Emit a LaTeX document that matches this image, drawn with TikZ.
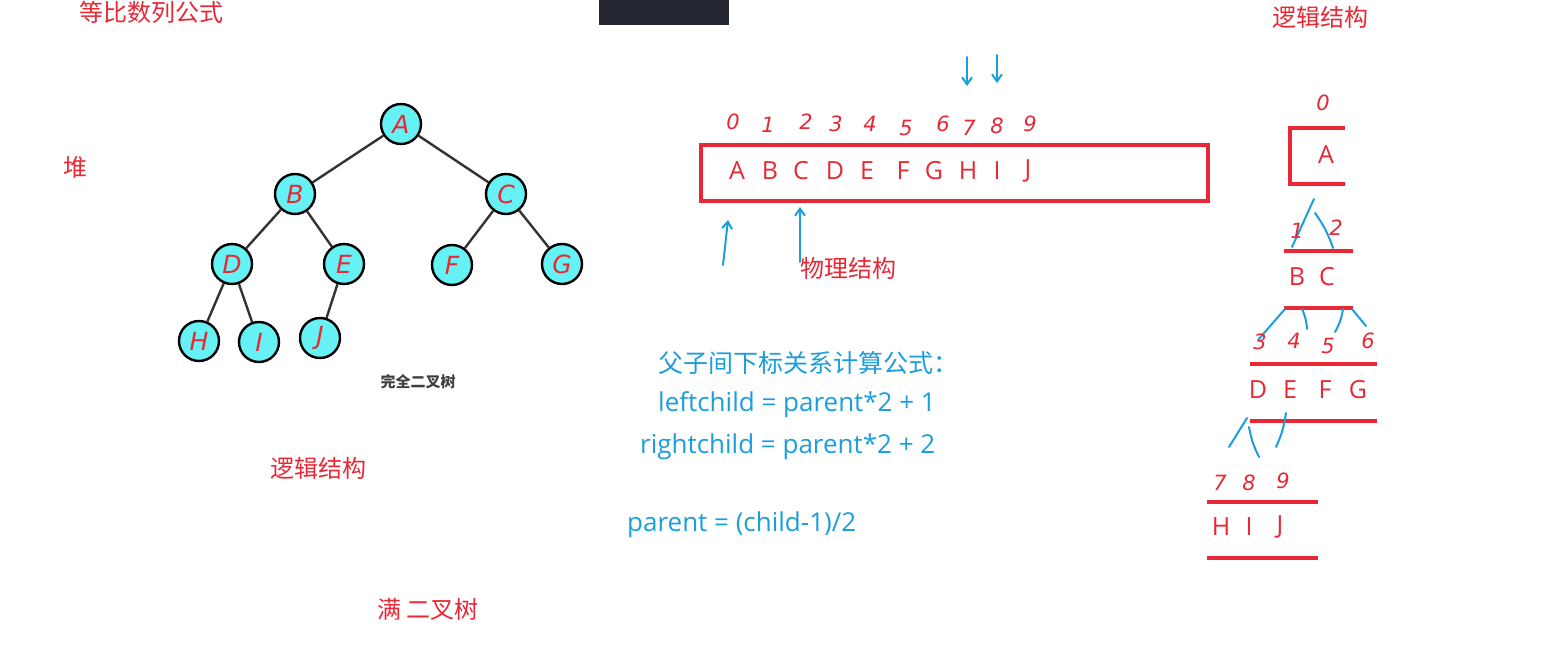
\documentclass[tikz,border=0pt]{standalone}
\usepackage{fontspec}
\setmainfont{Noto Sans CJK SC}
\newfontfamily\handfont{DejaVu Sans}
\newfontfamily\latinfont{Open Sans}
\usetikzlibrary{arrows.meta}
\definecolor{inkred}{RGB}{232,40,52}
\definecolor{inkblue}{RGB}{27,158,220}
\definecolor{nodecyan}{RGB}{102,242,245}
\definecolor{panel}{RGB}{35,38,48}
\begin{document}
\begin{tikzpicture}[x=1pt,y=-1pt,>={Straight Barb[length=7pt,width=10pt]},
  title/.style={text=inkred,font=\fontsize{24}{24}\selectfont,inner sep=0},
  tnode/.style={circle,draw=black,line width=2.4pt,fill=nodecyan,minimum size=40pt,inner sep=0,
    text=inkred,font=\handfont\itshape\fontsize{25}{25}\selectfont},
  edge/.style={draw=black!80,line width=2.4pt},
  cell/.style={text=inkred,font=\latinfont\fontsize{25}{25}\selectfont,inner sep=0},
  idx/.style={text=inkred,font=\handfont\itshape\fontsize{21}{21}\selectfont,inner sep=0},
  formula/.style={text=inkblue,font=\latinfont\fontsize{26}{26}\selectfont,inner sep=0,anchor=west},
  pen/.style={inkblue,line width=2pt,line cap=round},
  rule/.style={inkred,line width=3.2pt}]
\useasboundingbox (0,0) rectangle (1543,647);

% titles
\node[title] (geo) at (151,12) {等比数列公式};
\fill[panel] (599,0) rectangle (729,25);
\node[title] (logicR) at (1320,17) {逻辑结构};
\node[title] (heap) at (75,167) {堆};
\node[title] (logicL) at (318,468) {逻辑结构};
\node[title] (full) at (428,609) {满\ 二叉树};

% complete binary tree
\node[tnode] (A) at (401,124) {A};
\node[tnode] (B) at (295,194) {B};
\node[tnode] (C) at (506,194) {C};
\node[tnode] (D) at (232,264) {D};
\node[tnode] (E) at (344,264) {E};
\node[tnode] (F) at (452,265) {F};
\node[tnode] (G) at (562,264) {G};
\node[tnode] (H) at (199,341) {H};
\node[tnode] (I) at (259,342) {I};
\node[tnode] (J) at (320,338) {J};
\draw[edge] (A) -- (B);
\draw[edge] (A) -- (C);
\draw[edge] (B) -- (D);
\draw[edge] (B) -- (E);
\draw[edge] (C) -- (F);
\draw[edge] (C) -- (G);
\draw[edge] (D) -- (H);
\draw[edge] (D) -- (I);
\draw[edge] (E) -- (J);
\node[text=black!75,font=\bfseries\fontsize{15}{15}\selectfont,inner sep=0] (cbt) at (418,382) {完全二叉树};

% array
\node[draw=inkred,line width=3.2pt,minimum width=507pt,minimum height=56pt] (arr) at (954.5,173) {};
\node[cell] (a0) at (737,171) {A};
\node[cell] (a1) at (770,171) {B};
\node[cell] (a2) at (801,171) {C};
\node[cell] (a3) at (835,171) {D};
\node[cell] (a4) at (867,171) {E};
\node[cell] (a5) at (903,171) {F};
\node[cell] (a6) at (934,171) {G};
\node[cell] (a7) at (968,171) {H};
\node[cell] (a8) at (997,171) {I};
\node[cell] (a9) at (1028,171) {J};
\node[idx] (i0) at (733,122) {0};
\node[idx] (i1) at (768,125) {1};
\node[idx] (i2) at (806,122) {2};
\node[idx] (i3) at (836,124) {3};
\node[idx] (i4) at (870,124) {4};
\node[idx] (i5) at (906,128) {5};
\node[idx] (i6) at (943,124) {6};
\node[idx] (i7) at (969,128) {7};
\node[idx] (i8) at (997,126) {8};
\node[idx] (i9) at (1030,124) {9};
\coordinate (d1) at (967,57);
\coordinate (d2) at (967,86);
\coordinate (d3) at (997,55);
\coordinate (d4) at (997,83);
\draw[pen,->] (d1) -- (d2);
\draw[pen,->] (d3) -- (d4);
\coordinate (u1) at (723,265);
\coordinate (u2) at (728,220);
\coordinate (u3) at (800,262);
\coordinate (u4) at (800,207);
\draw[pen,->] (u1) -- (u2);
\draw[pen,->] (u3) -- (u4);
\node[title] (phys) at (848,268) {物理结构};

% formulas
\node[formula,font=\fontsize{25}{25}\selectfont] (f0) at (658,363) {父子间下标关系计算公式：};
\node[formula] (f1) at (658,405) {leftchild = parent*2 + 1};
\node[formula] (f2) at (640,447) {rightchild = parent*2 + 2};
\node[formula] (f3) at (627,525) {parent = (child-1)/2};

% logical layout
\node[idx] (r0) at (1323,103) {0};
\draw[rule] (1345,128) -- (1290,128) -- (1290,184) -- (1345,184);
\node[cell] (rA) at (1326,155) {A};
\draw[pen] (1314,199) -- (1292,247);
\draw[pen] (1315,213) to[bend left=8] (1333,248);
\node[idx] (r1) at (1297,231) {1};
\node[idx] (r2) at (1336,228) {2};
\draw[rule] (1284,251) -- (1353,251);
\node[cell] (rB) at (1297,277) {B};
\node[cell] (rC) at (1327,277) {C};
\draw[rule] (1284,308) -- (1353,308);
\draw[pen] (1285,309) -- (1258,340);
\draw[pen] (1302,309) to[bend left=10] (1307,329);
\draw[pen] (1343,309) to[bend left=10] (1335,332);
\draw[pen] (1352,309) -- (1366,326);
\node[idx] (r3) at (1260,342) {3};
\node[idx] (r4) at (1294,341) {4};
\node[idx] (r5) at (1328,346) {5};
\node[idx] (r6) at (1368,341) {6};
\draw[rule] (1250,364) -- (1377,364);
\node[cell] (rD) at (1258,390) {D};
\node[cell] (rE) at (1290,390) {E};
\node[cell] (rF) at (1325,390) {F};
\node[cell] (rG) at (1358,390) {G};
\draw[rule] (1250,421) -- (1377,421);
\draw[pen] (1247,418) -- (1229,447);
\draw[pen] (1249,427) to[bend right=8] (1259,457);
\draw[pen] (1286,413) to[bend left=8] (1276,447);
\node[idx] (r7) at (1220,483) {7};
\node[idx] (r8) at (1249,483) {8};
\node[idx] (r9) at (1283,481) {9};
\draw[rule] (1207,502) -- (1318,502);
\node[cell] (rH) at (1221,527) {H};
\node[cell] (rI) at (1249,527) {I};
\node[cell] (rJ) at (1280,527) {J};
\draw[rule] (1207,558) -- (1318,558);
\end{tikzpicture}
\end{document}
